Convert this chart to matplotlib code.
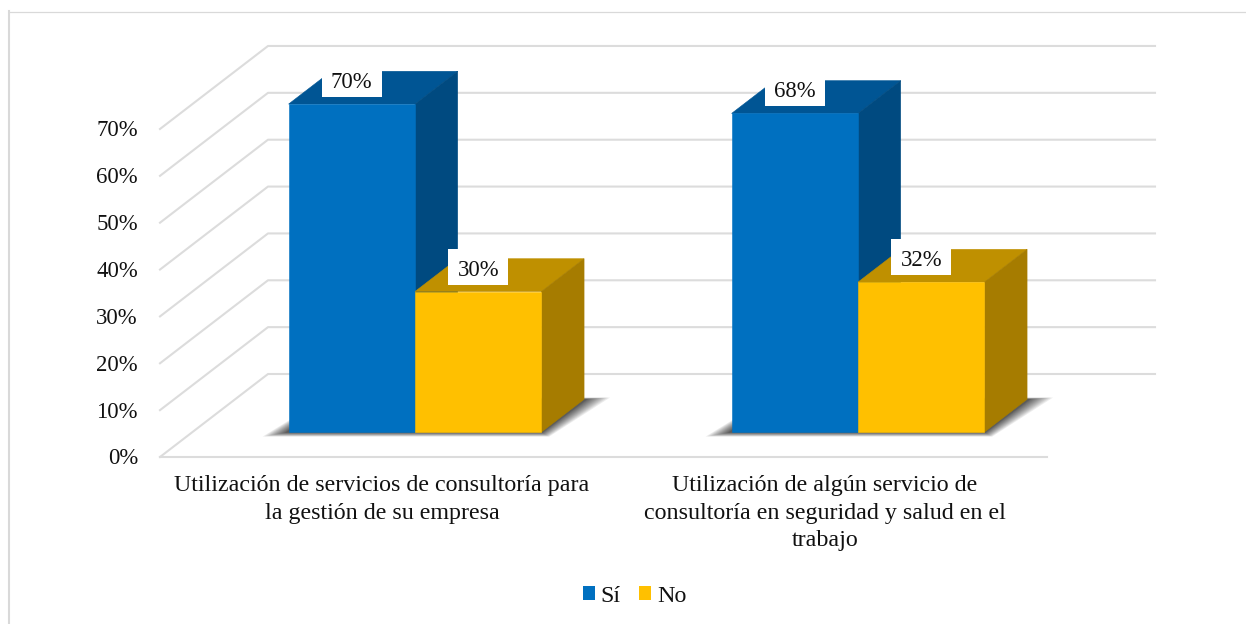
import matplotlib
matplotlib.use('Agg')
import matplotlib.pyplot as plt
from matplotlib.patches import Polygon, Patch, Rectangle

categories = ['Utilización de servicios de consultoría para\nla gestión de su empresa',
              'Utilización de algún servicio de\nconsultoría en seguridad y salud en el\ntrabajo']
si_values = [70, 68]
no_values = [30, 32]
y_ticks = [0, 10, 20, 30, 40, 50, 60, 70]
series_names = ['Sí', 'No']

# face, top, side
BLUE = ('#0070C0', '#005594', '#004A80')
YELLOW = ('#FFC000', '#BF9000', '#A67C00')
GRID = '#DCDCDC'
TEXT = '#111111'
FONT = 'Liberation Serif'
FS = 17.3
FS_NUM = 16.4

# one x unit is the distance between the two groups, y is in percent
PX_X = 443.0
PX_Y = 46.86 / 10
DEPTH_X = 108 / PX_X
DEPTH_Y = 83 / PX_Y
BAR_W = 126.4 / PX_X
D0 = 0.30
D1 = 0.695


def proj(x, y, d):
    return x + d * DEPTH_X, y + d * DEPTH_Y


def shift(x):
    # bar x positions are given for the front face, so take the depth out again
    return x - D0 * DEPTH_X


def draw_bar(ax, x, val, cols):
    x0 = shift(x)
    x1 = x0 + BAR_W
    a = proj(x0, 0, D0)
    b = proj(x1, 0, D0)
    c = proj(x1, val, D0)
    d = proj(x0, val, D0)
    e = proj(x1, val, D1)
    f = proj(x0, val, D1)
    g = proj(x1, 0, D1)
    edge = dict(lw=0.4, zorder=5)
    ax.add_patch(Polygon([d, c, e, f], fc=cols[1], ec=cols[1], **edge))
    ax.add_patch(Polygon([b, g, e, c], fc=cols[2], ec=cols[2], **edge))
    ax.add_patch(Polygon([a, b, c, d], fc=cols[0], ec=cols[0], **edge))


def draw_shadow(ax, x):
    # soft shadow on the floor under one pair of bars
    x0 = shift(x)
    x1 = x0 + 2 * BAR_W
    n = 16
    for i in range(n):
        t = (1 - i / (n - 1)) ** 1.5
        gx = (3 + 23 * t) / PX_X
        gy = (0.5 + 4 * t) / PX_Y
        pts = [proj(x0 - gx, -gy, D0), proj(x1 + gx * 0.3, -gy, D0),
               proj(x1 + gx, gy * 0.4, D1), proj(x0 - gx * 0.2, gy * 0.4, D1)]
        ax.add_patch(Polygon(pts, fc='#333333', ec='none', alpha=0.09, zorder=3))


fig = plt.figure(figsize=(12.46, 6.24), dpi=100)
ax = fig.add_axes([0, 0, 1, 1])
ax.set_xlim(-415 / PX_X, (1246 - 415) / PX_X)
ax.set_ylim(-(624 - 457) / PX_Y, 457 / PX_Y)
ax.axis('off')

# outer frame, only left and top are visible
ax.plot([9 / 1246, 9 / 1246], [0, 1 - 11 / 624], transform=ax.transAxes, color='#D9D9D9', lw=1.5, zorder=1)
ax.plot([9 / 1246, 1], [1 - 11.5 / 624, 1 - 11.5 / 624], transform=ax.transAxes, color='#D9D9D9', lw=0.9, zorder=1)

# walls
x_left = -255 / PX_X
x_right = 632 / PX_X
for t in y_ticks:
    p0 = proj(x_left, t, 0)
    p1 = proj(x_left, t, 1)
    p2 = proj(x_right, t, 1)
    ax.plot([p0[0], p1[0], p2[0]], [p0[1], p1[1], p2[1]], color=GRID, lw=1.5, zorder=2)
    ax.text(x_left - 22 / PX_X, t - 2 / PX_Y, '%d%%' % t, ha='right', va='center', family=FONT, fontsize=FS_NUM,
            color=TEXT)
ax.plot([x_left, x_right], [0, 0], color=GRID, lw=1.5, zorder=2)

for i in range(len(categories)):
    draw_shadow(ax, i - BAR_W)
    draw_bar(ax, i - BAR_W, si_values[i], BLUE)
    draw_bar(ax, i, no_values[i], YELLOW)

    for xb, val in ((i - BAR_W / 2, si_values[i]), (i + BAR_W / 2, no_values[i])):
        ytop = proj(0, val, D0)[1]
        ax.add_patch(Rectangle((xb - 30 / PX_X, ytop + 7 / PX_Y), 60 / PX_X, 36 / PX_Y, fc='white', ec='none', zorder=6))
        ax.text(xb, ytop + 16 / PX_Y, '%d%%' % val, ha='center', va='baseline', family=FONT, fontsize=FS_NUM,
                color=TEXT, zorder=7)

    ax.text(i - 33 / PX_X, -18.5 / PX_Y, categories[i], ha='center', va='top', family=FONT, fontsize=FS,
            color=TEXT, linespacing=1.38)

handles = [Patch(fc=BLUE[0], ec='none', label=series_names[0]),
           Patch(fc=YELLOW[0], ec='none', label=series_names[1])]
ax.legend(handles=handles, ncol=2, loc='center', bbox_to_anchor=(634.5 / 1246, 1 - 596 / 624), frameon=False,
          prop={'family': FONT, 'size': FS}, handlelength=0.5, handleheight=0.5,
          handletextpad=0.25, columnspacing=0.75, labelcolor=TEXT)

fig.savefig('out.png', dpi=100)
